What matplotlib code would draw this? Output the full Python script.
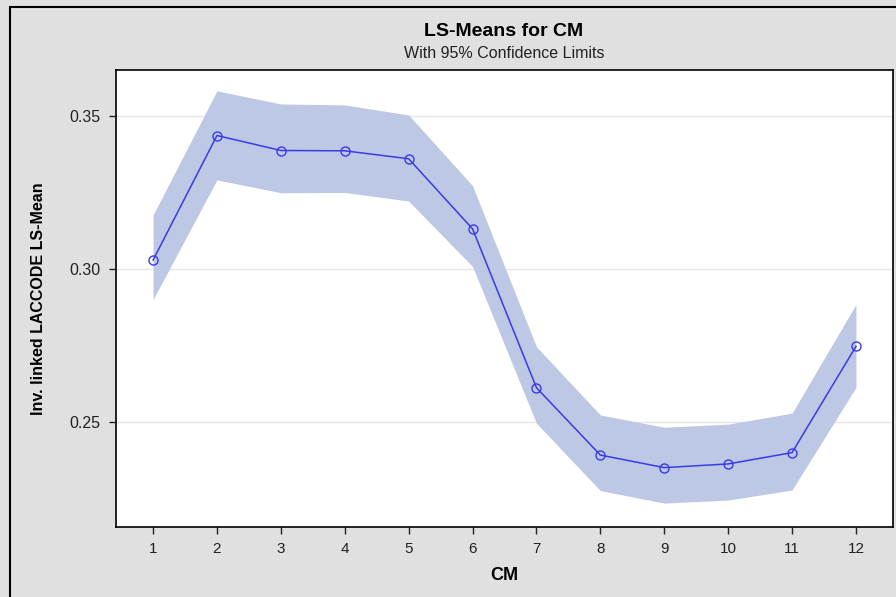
import numpy as np
import matplotlib.pyplot as plt
from matplotlib.patches import Rectangle

# LS-Means mit 95% Konfidenzgrenzen
cm = [1, 2, 3, 4, 5, 6, 7, 8, 9, 10, 11, 12]
lsmean = [0.3029, 0.3436, 0.3387, 0.3386, 0.3360, 0.3131, 0.2612, 0.2392, 0.2351, 0.2363, 0.2400, 0.2747]
upper = [0.3176, 0.3582, 0.3539, 0.3536, 0.3503, 0.3272, 0.2746, 0.2523, 0.2483, 0.2493, 0.2529, 0.2884]
lower = [0.2900, 0.3291, 0.3249, 0.3250, 0.3222, 0.3008, 0.2496, 0.2276, 0.2235, 0.2245, 0.2278, 0.2613]
yticks = [0.25, 0.30, 0.35]

plt.rcParams['font.family'] = ['Liberation Sans', 'DejaVu Sans']

fig = plt.figure(figsize=(8.96, 5.97), dpi=100)
fig.patch.set_facecolor('#e0e0e0')

# Rahmen (oben/links sichtbar)
fig.patches.append(Rectangle((10 / 896, -0.2), 1.2, 1.2 - 7 / 597, transform=fig.transFigure,
                             facecolor='none', edgecolor='black', linewidth=1.5, zorder=0))

ax = fig.add_axes([116 / 896, 1 - 527 / 597, (893 - 116) / 896, (527 - 70) / 597])
ax.set_facecolor('white')

ax.fill_between(cm, lower, upper, color='#bcc8e4', linewidth=0, zorder=2)
ax.plot(cm, lsmean, color='#3a3ae6', linewidth=1.1, marker='o', markersize=6.5,
        markerfacecolor='none', markeredgecolor='#3a3ae6', markeredgewidth=1.0, zorder=3)

ax.set_xlim(0.42, 12.58)
ax.set_ylim(0.2157, 0.365)
ax.set_xticks(cm)
ax.set_yticks(yticks)
ax.set_yticklabels([f"{v:.2f}" for v in yticks])
ax.grid(axis='y', color='#e6e6e6', linewidth=1, zorder=1)
ax.set_axisbelow(True)

for s in ax.spines.values():
    s.set_linewidth(1.2)
    s.set_color('black')
ax.tick_params(direction='out', length=5, width=1, labelsize=11, colors='#222222', pad=6)
ax.tick_params(axis='y', labelsize=11.5)

ax.set_xlabel("CM", fontsize=13, fontweight='bold', labelpad=8)
ax.set_ylabel("Inv. linked LACCODE LS-Mean", fontsize=11.5, fontweight='bold', labelpad=17)

fig.text(504 / 896, 1 - 32 / 597, "LS-Means for CM", ha='center', va='center',
         fontsize=14, fontweight='bold')
fig.text(504 / 896, 1 - 53 / 597, "With 95% Confidence Limits", ha='center', va='center',
         fontsize=11.5, color='#222222')

plt.savefig("out.png", dpi=100, facecolor=fig.get_facecolor())
